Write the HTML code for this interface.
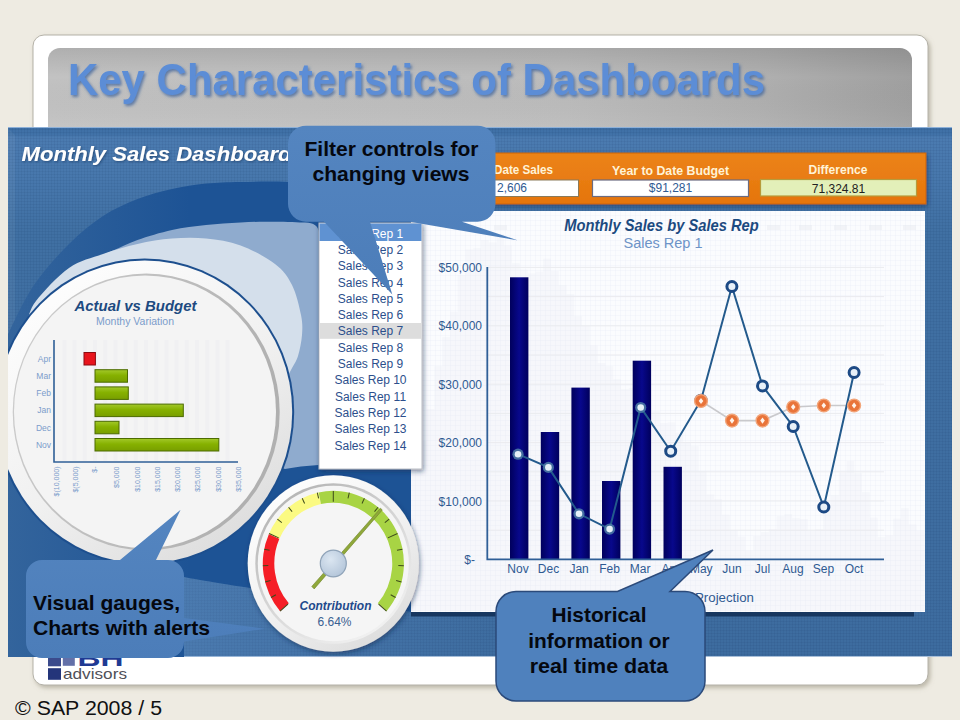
<!DOCTYPE html>
<html><head><meta charset="utf-8"><title>Key Characteristics of Dashboards</title>
<style>
html,body{margin:0;padding:0;background:#eeebe2;}
body{width:960px;height:720px;overflow:hidden;}
svg{display:block;}
text{font-family:"Liberation Sans",sans-serif;}
</style></head><body>
<svg width="960" height="720" viewBox="0 0 960 720">
<defs>
<linearGradient id="gGrey" x1="0" y1="0" x2="1" y2="0"><stop offset="0" stop-color="#c2c2c2"/><stop offset="0.6" stop-color="#bcbcbc"/><stop offset="0.82" stop-color="#b0b0b0"/><stop offset="1" stop-color="#a0a0a0"/></linearGradient>
<linearGradient id="gGreyV" x1="0" y1="0" x2="0" y2="1"><stop offset="0" stop-color="#000000" stop-opacity="0.1"/><stop offset="0.35" stop-color="#000000" stop-opacity="0"/><stop offset="1" stop-color="#ffffff" stop-opacity="0.07"/></linearGradient>
<linearGradient id="gDash" x1="0" y1="0" x2="0" y2="1"><stop offset="0" stop-color="#3f70a6"/><stop offset="0.013" stop-color="#4071a7"/><stop offset="0.02" stop-color="#4b7bb0"/><stop offset="0.1" stop-color="#4777ac"/><stop offset="0.2" stop-color="#4070a3"/><stop offset="1" stop-color="#3d6c9f"/></linearGradient>
<linearGradient id="gDark" gradientUnits="userSpaceOnUse" x1="8" y1="0" x2="190" y2="0"><stop offset="0" stop-color="#33649c"/><stop offset="1" stop-color="#1d5395"/></linearGradient>
<linearGradient id="gWave" gradientUnits="userSpaceOnUse" x1="184" y1="0" x2="520" y2="0"><stop offset="0" stop-color="#6a9bd4" stop-opacity="0.3"/><stop offset="0.45" stop-color="#6a9bd4" stop-opacity="0.14"/><stop offset="1" stop-color="#6a9bd4" stop-opacity="0"/></linearGradient>
<linearGradient id="gBar" x1="0" y1="0" x2="1" y2="0"><stop offset="0" stop-color="#00005c"/><stop offset="0.5" stop-color="#08088c"/><stop offset="1" stop-color="#00005c"/></linearGradient>
<linearGradient id="gGreen" x1="0" y1="0" x2="0" y2="1"><stop offset="0" stop-color="#a3c92a"/><stop offset="0.45" stop-color="#86b100"/><stop offset="1" stop-color="#789e00"/></linearGradient>
<linearGradient id="gOrange" x1="0" y1="0" x2="0" y2="1"><stop offset="0" stop-color="#ec8318"/><stop offset="1" stop-color="#e5750c"/></linearGradient>
<linearGradient id="gBezel" x1="0.15" y1="0" x2="0.85" y2="1"><stop offset="0" stop-color="#ffffff"/><stop offset="0.55" stop-color="#f0f0f0"/><stop offset="1" stop-color="#dadada"/></linearGradient>
<linearGradient id="gInner" x1="0.15" y1="0" x2="0.85" y2="1"><stop offset="0" stop-color="#b0b0b0"/><stop offset="0.5" stop-color="#d6d6d6"/><stop offset="1" stop-color="#f6f6f6"/></linearGradient>
<linearGradient id="gInner2" x1="0" y1="0" x2="1" y2="0.3"><stop offset="0" stop-color="#cfcfcf"/><stop offset="1" stop-color="#b0b0b0"/></linearGradient>
<linearGradient id="gCall" x1="0" y1="0" x2="0" y2="1"><stop offset="0" stop-color="#5485c0"/><stop offset="1" stop-color="#4c7db9"/></linearGradient>
<radialGradient id="gHub" cx="0.4" cy="0.35" r="0.7"><stop offset="0" stop-color="#dbe6f1"/><stop offset="1" stop-color="#b3c5d9"/></radialGradient>
<filter id="fTitle" x="-5%" y="-20%" width="110%" height="150%"><feDropShadow dx="1.5" dy="2" stdDeviation="1.6" flood-color="#3a5f9a" flood-opacity="0.75"/></filter>
<filter id="fCard" x="-5%" y="-5%" width="110%" height="110%"><feDropShadow dx="2" dy="2.5" stdDeviation="2.2" flood-color="#8a8470" flood-opacity="0.5"/></filter>
<filter id="fSoft" x="-10%" y="-10%" width="120%" height="120%"><feDropShadow dx="1" dy="2" stdDeviation="2.5" flood-color="#0e2850" flood-opacity="0.55"/></filter>
<filter id="fTxt" x="-5%" y="-20%" width="110%" height="150%"><feDropShadow dx="1" dy="1" stdDeviation="0.8" flood-color="#1c3c66" flood-opacity="0.7"/></filter>
<pattern id="pTex" width="3" height="3" patternUnits="userSpaceOnUse"><path d="M0 0.5H3M0.5 0V3" stroke="#0b2a55" stroke-opacity="0.07" stroke-width="1"/></pattern>
<pattern id="pGrid" width="5" height="5" patternUnits="userSpaceOnUse"><path d="M0 0.5H5M0.5 0V5" stroke="#c5d3ea" stroke-opacity="0.11" stroke-width="1"/></pattern>
<clipPath id="cDash"><rect x="8" y="127" width="944" height="530"/></clipPath>
</defs>

<rect width="960" height="720" fill="#eeebe2"/>
<rect x="33" y="35" width="895" height="650" rx="11" fill="#ffffff" stroke="#b4b1a7" stroke-width="1" filter="url(#fCard)"/>
<path d="M48 130V60a12 12 0 0 1 12-12H900a12 12 0 0 1 12 12V130Z" fill="url(#gGrey)"/>
<path d="M48 130V60a12 12 0 0 1 12-12H900a12 12 0 0 1 12 12V130Z" fill="url(#gGreyV)"/>
<text id="title" x="68" y="95" font-size="44.5" font-weight="bold" fill="#5c8dd6" filter="url(#fTitle)" textLength="697" lengthAdjust="spacingAndGlyphs">Key Characteristics of Dashboards</text>
<g id="logo"><rect x="48" y="668.2" width="13" height="11.6" fill="#24357a"/><rect x="48" y="655" width="13" height="11.3" fill="#3b4b8c"/><rect x="62.8" y="655" width="12" height="10.8" fill="#6370a8"/>
<text x="77.4" y="665.8" font-size="22" font-weight="bold" fill="#1f3a93" textLength="46" lengthAdjust="spacingAndGlyphs">BH</text>
<text x="63" y="679.2" font-size="14.5" fill="#505058" textLength="64" lengthAdjust="spacingAndGlyphs">advisors</text></g>
<text x="15" y="714.5" font-size="20" fill="#111111" textLength="147" lengthAdjust="spacingAndGlyphs">© SAP 2008 / 5</text>
<g id="dash">
<rect x="8" y="127" width="944" height="530" fill="url(#gDash)"/>
<rect x="8" y="127" width="944" height="530" fill="url(#pTex)"/>
<path d="M8 127H952V128H8Z" fill="#8db0d8"/><path d="M8 128L15 135V650L8 657Z" fill="#ffffff" fill-opacity="0.05"/><path d="M8 656H952V657H8Z" fill="#a9bfd8"/>
<g clip-path="url(#cDash)">
<path d="M4.0 345.0 C4.8 343.0 3.6 343.0 8.6 333.0 C13.6 323.0 23.9 299.8 34.0 285.0 C44.1 270.2 57.5 255.5 69.0 244.0 C80.5 232.5 91.6 223.5 103.0 216.0 C114.4 208.5 126.0 203.5 137.5 199.0 C149.0 194.5 160.6 191.6 172.0 189.0 C183.4 186.4 194.6 184.8 206.0 183.6 C217.4 182.4 226.8 182.3 240.6 182.0 C254.4 181.7 270.8 181.3 289.0 182.0 C307.2 182.7 328.2 183.7 350.0 186.0 C371.8 188.3 400.0 192.0 420.0 196.0 C440.0 200.0 456.7 205.2 470.0 210.0 C483.3 214.8 495.0 222.5 500.0 225.0 L500 612 L411 612 C405.8 611.0 393.5 608.3 380.0 606.0 C366.5 603.7 351.7 601.0 330.0 598.0 C308.3 595.0 271.7 591.0 250.0 588.0 C228.3 585.0 211.0 581.8 200.0 580.0 C189.0 578.2 186.7 577.5 184.0 577.0 L184 660 L4 660 Z" fill="url(#gDark)"/>
<path d="M184.0 577.0 C186.7 577.5 189.0 578.2 200.0 580.0 C211.0 581.8 228.3 585.0 250.0 588.0 C271.7 591.0 308.3 595.0 330.0 598.0 C351.7 601.0 366.5 603.7 380.0 606.0 C393.5 608.3 397.7 610.0 411.0 612.0 C424.3 614.0 441.8 616.3 460.0 618.0 C478.2 619.7 510.0 621.3 520.0 622.0 L520 660 L184 660Z" fill="url(#gWave)"/>
<path d="M96.0 258.0 C98.8 256.8 106.1 253.6 113.0 250.6 C119.9 247.6 127.7 243.4 137.5 240.0 C147.3 236.6 160.6 232.5 172.0 230.0 C183.4 227.5 194.6 226.3 206.0 225.0 C217.4 223.7 229.1 223.0 240.6 222.4 C252.1 221.8 264.3 221.7 275.0 221.7 C285.7 221.7 300.0 222.4 305.0 222.5 Q318.5 223 318.5 232 L318.5 465 Q300 466 285 469 L150 420 Z" fill="#8fabce"/>
<path d="M27.0 322.0 C28.5 318.5 29.0 310.0 36.0 301.0 C43.0 292.0 57.8 275.8 69.0 268.0 C80.2 260.2 91.6 258.0 103.0 254.0 C114.4 250.0 126.0 246.6 137.5 244.0 C149.0 241.4 160.6 239.5 172.0 238.6 C183.4 237.7 194.6 237.4 206.0 238.6 C217.4 239.8 229.1 241.3 240.6 245.5 C252.1 249.7 266.4 257.4 275.0 264.0 C283.6 270.6 287.7 276.5 292.0 285.0 C296.3 293.5 299.3 306.7 301.0 315.0 C302.7 323.3 302.5 328.2 302.0 335.0 C301.5 341.8 299.8 350.2 298.0 356.0 C296.2 361.8 294.0 364.3 291.0 370.0 C288.0 375.7 281.8 386.7 280.0 390.0 L150 410 Z" fill="#d4dfeb"/>
</g>
<text x="21.5" y="160.5" font-size="21" font-weight="bold" font-style="italic" fill="#ffffff" filter="url(#fTxt)" textLength="270" lengthAdjust="spacingAndGlyphs">Monthly Sales Dashboard</text>
<g id="bigcircle" clip-path="url(#cDash)">
<ellipse cx="144.7" cy="412" rx="149.5" ry="153.5" fill="#1d4f8e"/>
<ellipse cx="144.7" cy="412" rx="147.5" ry="151.5" fill="url(#gBezel)"/>
<ellipse cx="146.2" cy="412" rx="133.5" ry="138.5" fill="url(#gInner2)"/>
<ellipse cx="145" cy="411.7" rx="131" ry="136.3" fill="#f4f4f4"/>
<rect x="62.4" y="340" width="4" height="121" fill="#f0f0f2"/>
<rect x="72.6" y="340" width="4" height="121" fill="#f0f0f2"/>
<rect x="82.8" y="340" width="4" height="121" fill="#f0f0f2"/>
<rect x="93.0" y="340" width="4" height="121" fill="#f0f0f2"/>
<rect x="103.2" y="340" width="4" height="121" fill="#f0f0f2"/>
<rect x="113.4" y="340" width="4" height="121" fill="#f0f0f2"/>
<rect x="123.6" y="340" width="4" height="121" fill="#f0f0f2"/>
<rect x="133.8" y="340" width="4" height="121" fill="#f0f0f2"/>
<rect x="144.0" y="340" width="4" height="121" fill="#f0f0f2"/>
<rect x="154.2" y="340" width="4" height="121" fill="#f0f0f2"/>
<rect x="164.4" y="340" width="4" height="121" fill="#f0f0f2"/>
<rect x="174.6" y="340" width="4" height="121" fill="#f0f0f2"/>
<rect x="184.8" y="340" width="4" height="121" fill="#f0f0f2"/>
<rect x="195.0" y="340" width="4" height="121" fill="#f0f0f2"/>
<rect x="205.2" y="340" width="4" height="121" fill="#f0f0f2"/>
<rect x="215.4" y="340" width="4" height="121" fill="#f0f0f2"/>
<rect x="225.6" y="340" width="4" height="121" fill="#f0f0f2"/>
<text x="135.5" y="311" font-size="15.5" font-weight="bold" font-style="italic" fill="#1c4a80" text-anchor="middle" textLength="122" lengthAdjust="spacingAndGlyphs">Actual vs Budget</text>
<text x="135" y="324.5" font-size="10" fill="#7b9ccb" text-anchor="middle" textLength="78" lengthAdjust="spacingAndGlyphs">Monthy Variation</text>
<path d="M54 340V462H238" fill="none" stroke="#2f5f97" stroke-width="1.6"/>
<text x="51" y="361.8" font-size="8.5" fill="#7b9ccb" text-anchor="end">Apr</text>
<rect x="84.0" y="352.5" width="11.4" height="12.5" fill="#e8141c" stroke="#8c0a10" stroke-width="1"/>
<text x="51" y="378.9" font-size="8.5" fill="#7b9ccb" text-anchor="end">Mar</text>
<rect x="95" y="369.7" width="32.5" height="12.5" fill="url(#gGreen)" stroke="#4c6b00" stroke-width="1"/>
<text x="51" y="396.1" font-size="8.5" fill="#7b9ccb" text-anchor="end">Feb</text>
<rect x="95" y="386.9" width="33.3" height="12.5" fill="url(#gGreen)" stroke="#4c6b00" stroke-width="1"/>
<text x="51" y="413.4" font-size="8.5" fill="#7b9ccb" text-anchor="end">Jan</text>
<rect x="95" y="404.1" width="88.3" height="12.5" fill="url(#gGreen)" stroke="#4c6b00" stroke-width="1"/>
<text x="51" y="430.6" font-size="8.5" fill="#7b9ccb" text-anchor="end">Dec</text>
<rect x="95" y="421.3" width="24.0" height="12.5" fill="url(#gGreen)" stroke="#4c6b00" stroke-width="1"/>
<text x="51" y="447.8" font-size="8.5" fill="#7b9ccb" text-anchor="end">Nov</text>
<rect x="95" y="438.5" width="123.8" height="12.5" fill="url(#gGreen)" stroke="#4c6b00" stroke-width="1"/>
<text transform="translate(59.0 466.5) rotate(-90)" font-size="7" fill="#7b9ccb" text-anchor="end">$(10,000)</text>
<text transform="translate(78.3 466.5) rotate(-90)" font-size="7" fill="#7b9ccb" text-anchor="end">$(5,000)</text>
<text transform="translate(97.3 466.5) rotate(-90)" font-size="7" fill="#7b9ccb" text-anchor="end">$-</text>
<text transform="translate(119.0 466.5) rotate(-90)" font-size="7" fill="#7b9ccb" text-anchor="end">$5,000</text>
<text transform="translate(140.3 466.5) rotate(-90)" font-size="7" fill="#7b9ccb" text-anchor="end">$10,000</text>
<text transform="translate(160.3 466.5) rotate(-90)" font-size="7" fill="#7b9ccb" text-anchor="end">$15,000</text>
<text transform="translate(180.3 466.5) rotate(-90)" font-size="7" fill="#7b9ccb" text-anchor="end">$20,000</text>
<text transform="translate(200.3 466.5) rotate(-90)" font-size="7" fill="#7b9ccb" text-anchor="end">$25,000</text>
<text transform="translate(221.3 466.5) rotate(-90)" font-size="7" fill="#7b9ccb" text-anchor="end">$30,000</text>
<text transform="translate(241.3 466.5) rotate(-90)" font-size="7" fill="#7b9ccb" text-anchor="end">$35,000</text>
</g>
<g id="chart">
<rect x="411" y="216" width="503" height="400.5" fill="#16365f"/>
<rect x="411" y="211" width="514" height="401" fill="#fbfcfe"/>
<rect x="411" y="211" width="514" height="401" fill="url(#pGrid)"/>
<path d="M411 611L411.0 472.7L418.8 472.7L418.8 440.9L426.6 440.9L426.6 409.1L434.3 409.1L434.3 366.3L442.1 366.3L442.1 337.2L449.9 337.2L449.9 311.7L457.7 311.7L457.7 275.1L465.4 275.1L465.4 249.6L473.2 249.6L473.2 248.2L481.0 248.2L481.0 239.9L488.8 239.9L488.8 242.6L496.6 242.6L496.6 234.3L504.3 234.3L504.3 245.6L512.1 245.6L512.1 263.2L519.9 263.2L519.9 269.8L527.7 269.8L527.7 273.5L535.4 273.5L535.4 271.7L543.2 271.7L543.2 258.8L551.0 258.8L551.0 270.9L558.8 270.9L558.8 285.3L566.6 285.3L566.6 294.2L574.3 294.2L574.3 316.3L582.1 316.3L582.1 326.0L589.9 326.0L589.9 345.6L597.7 345.6L597.7 362.9L605.4 362.9L605.4 366.3L613.2 366.3L613.2 379.3L621.0 379.3L621.0 389.2L628.8 389.2L628.8 388.0L636.6 388.0L636.6 398.7L644.3 398.7L644.3 410.4L652.1 410.4L652.1 411.2L659.9 411.2L659.9 423.0L667.7 423.0L667.7 422.4L675.4 422.4L675.4 432.7L683.2 432.7L683.2 442.9L691.0 442.9L691.0 446.3L698.8 446.3L698.8 471.0L706.6 471.0L706.6 494.4L714.3 494.4L714.3 499.1L722.1 499.1L722.1 514.8L729.9 514.8L729.9 530.8L737.7 530.8L737.7 536.8L745.4 536.8L745.4 550.8L753.2 550.8L753.2 536.0L761.0 536.0L761.0 532.2L768.8 532.2L768.8 529.0L776.6 529.0L776.6 516.2L784.3 516.2L784.3 514.3L792.1 514.3L792.1 518.3L799.9 518.3L799.9 519.1L807.7 519.1L807.7 530.9L815.4 530.9L815.4 529.3L823.2 529.3L823.2 506.8L831.0 506.8L831.0 495.2L838.8 495.2L838.8 472.7L846.6 472.7L846.6 461.1L854.3 461.1L854.3 473.3L862.1 473.3L862.1 492.2L869.9 492.2L869.9 517.7L877.7 517.7L877.7 537.2L885.4 537.2L885.4 535.4L893.2 535.4L893.2 518.7L901.0 518.7L901.0 508.2L908.8 508.2L908.8 524.6L916.6 524.6L916.6 530.8L924.3 530.8L924.3 517.6L924.9 517.6L925 611Z" fill="#e3e6f0" fill-opacity="0.22"/>
<rect x="455" y="225" width="13" height="5" fill="#e6e9f0" fill-opacity="0.45"/>
<rect x="494" y="225" width="13" height="5" fill="#e6e9f0" fill-opacity="0.45"/>
<rect x="767" y="225" width="13" height="5" fill="#e6e9f0" fill-opacity="0.45"/>
<rect x="799" y="225" width="13" height="5" fill="#e6e9f0" fill-opacity="0.45"/>
<rect x="834" y="225" width="13" height="5" fill="#e6e9f0" fill-opacity="0.45"/>
<rect x="869" y="225" width="13" height="5" fill="#e6e9f0" fill-opacity="0.45"/>
<rect x="903" y="225" width="13" height="5" fill="#e6e9f0" fill-opacity="0.45"/>
<path d="M488 530.2H884" stroke="#eaebef" stroke-width="1"/>
<path d="M488 501.0H884" stroke="#eaebef" stroke-width="1"/>
<path d="M488 471.8H884" stroke="#eaebef" stroke-width="1"/>
<path d="M488 442.6H884" stroke="#eaebef" stroke-width="1"/>
<path d="M488 413.4H884" stroke="#eaebef" stroke-width="1"/>
<path d="M488 384.2H884" stroke="#eaebef" stroke-width="1"/>
<path d="M488 355.0H884" stroke="#eaebef" stroke-width="1"/>
<path d="M488 325.8H884" stroke="#eaebef" stroke-width="1"/>
<path d="M488 296.6H884" stroke="#eaebef" stroke-width="1"/>
<path d="M488 267.4H884" stroke="#eaebef" stroke-width="1"/>
<text x="661.5" y="231" font-size="16" font-weight="bold" font-style="italic" fill="#1c4a80" text-anchor="middle" textLength="194.5" lengthAdjust="spacingAndGlyphs">Monthly Sales by Sales Rep</text>
<text x="663" y="247.5" font-size="15.5" fill="#6d93c7" text-anchor="middle" textLength="79" lengthAdjust="spacingAndGlyphs">Sales Rep 1</text>
<text x="475" y="563.9" font-size="12" fill="#2f5a92" text-anchor="end">$-</text>
<text x="482" y="505.5" font-size="12" fill="#2f5a92" text-anchor="end">$10,000</text>
<text x="482" y="447.1" font-size="12" fill="#2f5a92" text-anchor="end">$20,000</text>
<text x="482" y="388.7" font-size="12" fill="#2f5a92" text-anchor="end">$30,000</text>
<text x="482" y="330.3" font-size="12" fill="#2f5a92" text-anchor="end">$40,000</text>
<text x="482" y="271.9" font-size="12" fill="#2f5a92" text-anchor="end">$50,000</text>
<rect x="510.0" y="277.3" width="18.4" height="282.1" fill="url(#gBar)"/>
<rect x="540.8" y="432.0" width="18.4" height="127.4" fill="url(#gBar)"/>
<rect x="571.4" y="387.6" width="18.4" height="171.8" fill="url(#gBar)"/>
<rect x="602.0" y="481.0" width="18.4" height="78.4" fill="url(#gBar)"/>
<rect x="632.7" y="360.7" width="18.4" height="198.7" fill="url(#gBar)"/>
<rect x="663.5" y="466.8" width="18.4" height="92.6" fill="url(#gBar)"/>
<path d="M487.3 267V559.4H884" fill="none" stroke="#2f5f97" stroke-width="1.8"/>
<text x="518.0" y="573" font-size="12" fill="#2f5a92" text-anchor="middle">Nov</text>
<text x="548.5" y="573" font-size="12" fill="#2f5a92" text-anchor="middle">Dec</text>
<text x="579.1" y="573" font-size="12" fill="#2f5a92" text-anchor="middle">Jan</text>
<text x="609.6" y="573" font-size="12" fill="#2f5a92" text-anchor="middle">Feb</text>
<text x="640.2" y="573" font-size="12" fill="#2f5a92" text-anchor="middle">Mar</text>
<text x="670.8" y="573" font-size="12" fill="#2f5a92" text-anchor="middle">Apr</text>
<text x="701.3" y="573" font-size="12" fill="#2f5a92" text-anchor="middle">May</text>
<text x="731.9" y="573" font-size="12" fill="#2f5a92" text-anchor="middle">Jun</text>
<text x="762.4" y="573" font-size="12" fill="#2f5a92" text-anchor="middle">Jul</text>
<text x="793.0" y="573" font-size="12" fill="#2f5a92" text-anchor="middle">Aug</text>
<text x="823.5" y="573" font-size="12" fill="#2f5a92" text-anchor="middle">Sep</text>
<text x="854.0" y="573" font-size="12" fill="#2f5a92" text-anchor="middle">Oct</text>
<text x="695" y="602" font-size="13.5" fill="#2f5a92" textLength="59" lengthAdjust="spacingAndGlyphs">Projection</text>
<polyline points="701.0,401.0 732.0,420.6 762.5,420.6 793.2,407.0 823.8,405.5 854.1,405.5" fill="none" stroke="#c9c9cc" stroke-width="1.6"/>
<polyline points="518.0,454.2 548.4,467.4 579.0,513.8 609.6,529.1 640.7,407.5 670.7,451.2 701.0,400.2 731.9,286.5 762.5,385.9 793.2,426.5 823.8,507.0 854.1,372.5" fill="none" stroke="#235a8c" stroke-width="2"/>
<circle cx="518.0" cy="454.2" r="5.6" fill="#4f7fa6" fill-opacity="0.85"/><circle cx="518.0" cy="454.2" r="3.3" fill="#e6f0f8"/>
<circle cx="548.4" cy="467.4" r="5.6" fill="#4f7fa6" fill-opacity="0.85"/><circle cx="548.4" cy="467.4" r="3.3" fill="#e6f0f8"/>
<circle cx="579.0" cy="513.8" r="5.6" fill="#4f7fa6" fill-opacity="0.85"/><circle cx="579.0" cy="513.8" r="3.3" fill="#e6f0f8"/>
<circle cx="609.6" cy="529.1" r="5.6" fill="#4f7fa6" fill-opacity="0.85"/><circle cx="609.6" cy="529.1" r="3.3" fill="#e6f0f8"/>
<circle cx="640.7" cy="407.5" r="5.6" fill="#4f7fa6" fill-opacity="0.85"/><circle cx="640.7" cy="407.5" r="3.3" fill="#e6f0f8"/>
<circle cx="670.7" cy="451.2" r="5" fill="#e8f0f8" stroke="#1d4a85" stroke-width="3"/>
<circle cx="701.0" cy="400.2" r="5" fill="#e8f0f8" stroke="#1d4a85" stroke-width="3"/>
<circle cx="731.9" cy="286.5" r="5" fill="#e8f0f8" stroke="#1d4a85" stroke-width="3"/>
<circle cx="762.5" cy="385.9" r="5" fill="#e8f0f8" stroke="#1d4a85" stroke-width="3"/>
<circle cx="793.2" cy="426.5" r="5" fill="#e8f0f8" stroke="#1d4a85" stroke-width="3"/>
<circle cx="823.8" cy="507.0" r="5" fill="#e8f0f8" stroke="#1d4a85" stroke-width="3"/>
<circle cx="854.1" cy="372.5" r="5" fill="#e8f0f8" stroke="#1d4a85" stroke-width="3"/>
<circle cx="701.0" cy="401.0" r="6.4" fill="#e9743a" stroke="#f2a57a" stroke-width="1.4"/><path d="M701.0 397.9l2.3 3.1-2.3 3.1-2.3-3.1Z" fill="#fff3ea"/>
<circle cx="732.0" cy="420.6" r="6.4" fill="#e9743a" stroke="#f2a57a" stroke-width="1.4"/><path d="M732.0 417.5l2.3 3.1-2.3 3.1-2.3-3.1Z" fill="#fff3ea"/>
<circle cx="762.5" cy="420.6" r="6.4" fill="#e9743a" stroke="#f2a57a" stroke-width="1.4"/><path d="M762.5 417.5l2.3 3.1-2.3 3.1-2.3-3.1Z" fill="#fff3ea"/>
<circle cx="793.2" cy="407.0" r="6.4" fill="#e9743a" stroke="#f2a57a" stroke-width="1.4"/><path d="M793.2 403.9l2.3 3.1-2.3 3.1-2.3-3.1Z" fill="#fff3ea"/>
<circle cx="823.8" cy="405.5" r="6.4" fill="#e9743a" stroke="#f2a57a" stroke-width="1.4"/><path d="M823.8 402.4l2.3 3.1-2.3 3.1-2.3-3.1Z" fill="#fff3ea"/>
<circle cx="854.1" cy="405.5" r="6.4" fill="#e9743a" stroke="#f2a57a" stroke-width="1.4"/><path d="M854.1 402.4l2.3 3.1-2.3 3.1-2.3-3.1Z" fill="#fff3ea"/>
</g>
<g id="kpi">
<rect x="470" y="153" width="456" height="51" fill="url(#gOrange)" stroke="#c9650a" stroke-width="1" filter="url(#fSoft)"/>
<rect x="470" y="180" width="108.5" height="16.5" fill="#ffffff" stroke="#8a7a5a" stroke-width="1"/>
<rect x="592.5" y="180" width="156" height="16.5" fill="#ffffff" stroke="#6b6b80" stroke-width="1.2"/>
<rect x="760.5" y="179.5" width="156" height="16.5" fill="#e3f0b9" stroke="#b79b3a" stroke-width="1.2"/>
<text x="494" y="174" font-size="12" font-weight="bold" fill="#fff3d6" textLength="59" lengthAdjust="spacingAndGlyphs">Date Sales</text>
<text x="670.5" y="174.5" font-size="12" font-weight="bold" fill="#fff3d6" text-anchor="middle" textLength="117" lengthAdjust="spacingAndGlyphs">Year to Date Budget</text>
<text x="838" y="173.5" font-size="12" font-weight="bold" fill="#fff3d6" text-anchor="middle" textLength="59" lengthAdjust="spacingAndGlyphs">Difference</text>
<text x="497" y="191.5" font-size="12" fill="#2f5a92">2,606</text>
<text x="670.5" y="192.3" font-size="12" fill="#2f5a92" text-anchor="middle">$91,281</text>
<text x="838.5" y="192.5" font-size="12" fill="#222222" text-anchor="middle">71,324.81</text>
</g>
<g id="list">
<rect x="319" y="223" width="103" height="246" fill="#ffffff" stroke="#b9bcc4" stroke-width="1" filter="url(#fSoft)"/>
<rect x="319.5" y="223.5" width="102" height="17.5" fill="#5f92d2"/>
<rect x="319.5" y="323" width="102" height="15.8" fill="#dddddd"/>
<text x="370.5" y="237.6" font-size="12" fill="#ffffff" text-anchor="middle">Sales Rep 1</text>
<text x="370.5" y="253.9" font-size="12" fill="#2c4f8c" text-anchor="middle">Sales Rep 2</text>
<text x="370.5" y="270.2" font-size="12" fill="#2c4f8c" text-anchor="middle">Sales Rep 3</text>
<text x="370.5" y="286.5" font-size="12" fill="#2c4f8c" text-anchor="middle">Sales Rep 4</text>
<text x="370.5" y="302.8" font-size="12" fill="#2c4f8c" text-anchor="middle">Sales Rep 5</text>
<text x="370.5" y="319.1" font-size="12" fill="#2c4f8c" text-anchor="middle">Sales Rep 6</text>
<text x="370.5" y="335.4" font-size="12" fill="#2c4f8c" text-anchor="middle">Sales Rep 7</text>
<text x="370.5" y="351.7" font-size="12" fill="#2c4f8c" text-anchor="middle">Sales Rep 8</text>
<text x="370.5" y="368.0" font-size="12" fill="#2c4f8c" text-anchor="middle">Sales Rep 9</text>
<text x="370.5" y="384.3" font-size="12" fill="#2c4f8c" text-anchor="middle">Sales Rep 10</text>
<text x="370.5" y="400.6" font-size="12" fill="#2c4f8c" text-anchor="middle">Sales Rep 11</text>
<text x="370.5" y="416.9" font-size="12" fill="#2c4f8c" text-anchor="middle">Sales Rep 12</text>
<text x="370.5" y="433.2" font-size="12" fill="#2c4f8c" text-anchor="middle">Sales Rep 13</text>
<text x="370.5" y="449.5" font-size="12" fill="#2c4f8c" text-anchor="middle">Sales Rep 14</text>
</g>
<g id="gauge" transform="translate(0 -16.91) scale(1 1.03)">
<circle cx="333.3" cy="563.5" r="85.6" fill="url(#gBezel)" filter="url(#fSoft)"/>
<circle cx="333.3" cy="563.5" r="78" fill="url(#gInner)"/>
<circle cx="333.3" cy="563.5" r="75.5" fill="#f5f5f5"/>
<path d="M280.1 609.8A70.5 70.5 0 0 1 268.9 534.8L279.4 539.5A59 59 0 0 0 288.8 602.2Z" fill="#f51e26"/>
<path d="M268.9 534.8A70.5 70.5 0 0 1 318.6 494.5L321.0 505.8A59 59 0 0 0 279.4 539.5Z" fill="#fbfa82"/>
<path d="M318.6 494.5A70.5 70.5 0 0 1 386.5 609.8L377.8 602.2A59 59 0 0 0 321.0 505.8Z" fill="#a8d444"/>
<path d="M288.0 602.9L280.1 609.8" stroke="#3d4a1a" stroke-width="1"/>
<path d="M275.9 593.9L271.0 596.5" stroke="#3d4a1a" stroke-width="1"/>
<path d="M270.5 580.1L265.1 581.5" stroke="#3d4a1a" stroke-width="1"/>
<path d="M268.3 565.4L262.8 565.6" stroke="#3d4a1a" stroke-width="1"/>
<path d="M269.6 550.7L264.2 549.6" stroke="#3d4a1a" stroke-width="1"/>
<path d="M278.7 538.6L269.1 534.3" stroke="#3d4a1a" stroke-width="1"/>
<path d="M281.8 523.8L277.4 520.5" stroke="#3d4a1a" stroke-width="1"/>
<path d="M292.1 513.2L288.6 508.9" stroke="#3d4a1a" stroke-width="1"/>
<path d="M304.6 505.2L302.2 500.2" stroke="#3d4a1a" stroke-width="1"/>
<path d="M318.6 500.2L317.3 494.8" stroke="#3d4a1a" stroke-width="1"/>
<path d="M333.3 503.5L333.3 493.0" stroke="#3d4a1a" stroke-width="1"/>
<path d="M348.0 500.2L349.3 494.8" stroke="#3d4a1a" stroke-width="1"/>
<path d="M362.0 505.2L364.4 500.2" stroke="#3d4a1a" stroke-width="1"/>
<path d="M374.5 513.2L378.0 508.9" stroke="#3d4a1a" stroke-width="1"/>
<path d="M384.8 523.8L389.2 520.5" stroke="#3d4a1a" stroke-width="1"/>
<path d="M387.9 538.6L397.5 534.3" stroke="#3d4a1a" stroke-width="1"/>
<path d="M397.0 550.7L402.4 549.6" stroke="#3d4a1a" stroke-width="1"/>
<path d="M398.3 565.4L403.8 565.6" stroke="#3d4a1a" stroke-width="1"/>
<path d="M396.1 580.1L401.5 581.5" stroke="#3d4a1a" stroke-width="1"/>
<path d="M390.7 593.9L395.6 596.5" stroke="#3d4a1a" stroke-width="1"/>
<path d="M378.6 602.9L386.5 609.8" stroke="#3d4a1a" stroke-width="1"/>
<path d="M311.8 585.8L314.2 588.2L382.3 511.5L380.5 509.9Z" fill="#8fa83a" stroke="#6f8528" stroke-width="0.6"/>
<circle cx="333.3" cy="563.5" r="13" fill="url(#gHub)" stroke="#8fa3b8" stroke-width="1.2"/>
<text x="335.5" y="608.2" font-size="12.3" font-weight="bold" font-style="italic" fill="#1f4a8c" text-anchor="middle" textLength="72" lengthAdjust="spacingAndGlyphs">Contribution</text>
<text x="334.5" y="623.8" font-size="12" fill="#3a6192" text-anchor="middle">6.64%</text>
</g>
</g>
<g id="callouts">
<path d="M306 125.7H477.5a18 18 0 0 1 18 18V203.7a18 18 0 0 1-18 18H462L517.5 240.3L410 221.7H370L392.3 294.5L324 221.7H306a18 18 0 0 1-18-18V143.7a18 18 0 0 1 18-18Z" fill="url(#gCall)"/>
<text x="391.5" y="156" font-size="20.5" font-weight="bold" fill="#05080f" text-anchor="middle" textLength="174" lengthAdjust="spacingAndGlyphs">Filter controls for</text>
<text x="391" y="181" font-size="20.5" font-weight="bold" fill="#05080f" text-anchor="middle" textLength="157" lengthAdjust="spacingAndGlyphs">changing views</text>
<path d="M42 560H120L180.6 509.7L156 560H168a16 16 0 0 1 16 16V618L264.8 628.7L184 641.5V642a16 16 0 0 1-16 16H42a16 16 0 0 1-16-16V576a16 16 0 0 1 16-16Z" fill="url(#gCall)"/>
<text x="33" y="610" font-size="20.5" font-weight="bold" fill="#05080f" textLength="147" lengthAdjust="spacingAndGlyphs">Visual gauges,</text>
<text x="33" y="635" font-size="20.5" font-weight="bold" fill="#05080f" textLength="177" lengthAdjust="spacingAndGlyphs">Charts with alerts</text>
<path d="M516 591.5H617.5L713 550L670 591.5H685a20 20 0 0 1 20 20V681a20 20 0 0 1-20 20H516a20 20 0 0 1-20-20V611.5a20 20 0 0 1 20-20Z" fill="#4f81bd" stroke="#2b4a7a" stroke-width="1.5"/>
<text x="599" y="622" font-size="20.5" font-weight="bold" fill="#05080f" text-anchor="middle" textLength="95" lengthAdjust="spacingAndGlyphs">Historical</text>
<text x="599" y="647.5" font-size="20.5" font-weight="bold" fill="#05080f" text-anchor="middle" textLength="141.5" lengthAdjust="spacingAndGlyphs">information or</text>
<text x="599" y="673" font-size="20.5" font-weight="bold" fill="#05080f" text-anchor="middle" textLength="138.5" lengthAdjust="spacingAndGlyphs">real time data</text>
</g>
</svg></body></html>
